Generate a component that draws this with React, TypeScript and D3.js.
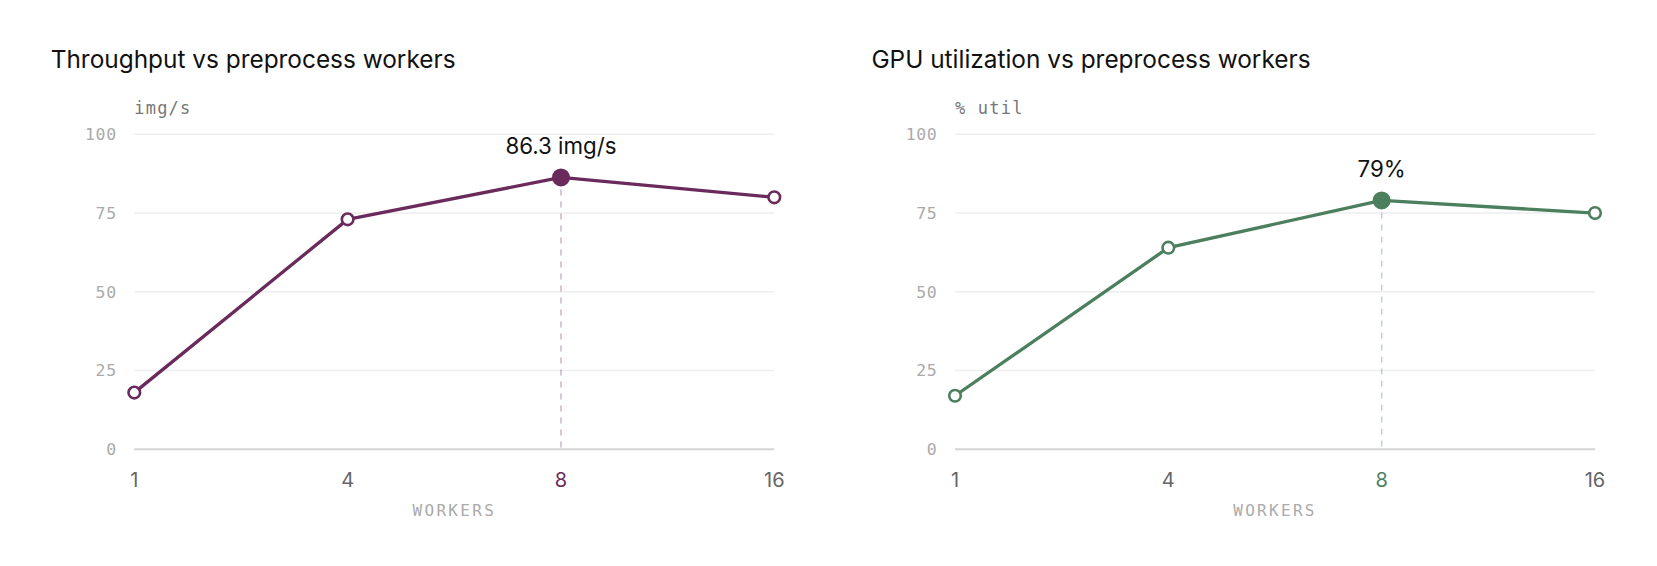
import React from "react";
import * as d3 from "d3";

const categories = ["1", "4", "8", "16"];
const throughputValues = [18, 73, 86.3, 80];
const gpuUtilValues = [17, 64, 79, 75];
const yTicks = [0, 25, 50, 75, 100];
const titles = ["Throughput vs preprocess workers", "GPU utilization vs preprocess workers"];
const units = ["img/s", "% util"];
const peakLabels = ["86.3 img/s", "79%"];
const colors = ["#6a2a5b", "#4b7f5e"];
const highlightIndex = 2;
const xAxisTitle = "WORKERS";

const W = 1657;
const H = 566;
const plotW = 640;
const plotTop = 134.3;
const plotBottom = 449.3;
const panelLefts = [134.3, 955];

const sans = "Inter, 'Noto Sans', sans-serif";
const mono = "'DejaVu Sans Mono', 'Liberation Mono', monospace";

function Panel({ idx, values }: { idx: number; values: number[] }) {
  const x0 = panelLefts[idx];
  const color = colors[idx];
  const x = d3.scalePoint<string>().domain(categories).range([x0, x0 + plotW]).padding(0);
  const y = d3.scaleLinear().domain([0, 100]).range([plotBottom, plotTop]);
  const line = d3
    .line<number>()
    .x((_, i) => x(categories[i]) as number)
    .y((d) => y(d));
  const hx = x(categories[highlightIndex]) as number;
  const hy = y(values[highlightIndex]);
  return (
    <g>
      <text x={x0 - 83.6} y={67.6} fontFamily={sans} fontSize={24.4} fill="#111">
        {titles[idx]}
      </text>
      <text x={x0} y={114} fontFamily={mono} fontSize={17} fill="#777" letterSpacing={1.2}>
        {units[idx]}
      </text>
      {yTicks.map((t) => (
        <g key={t}>
          <line
            x1={x0}
            x2={x0 + plotW}
            y1={y(t)}
            y2={y(t)}
            stroke={t === 0 ? "#d4d4d4" : "#eeeeee"}
            strokeWidth={t === 0 ? 2 : 1.5}
          />
          <text
            x={x0 - 17.6}
            y={y(t)}
            dy="0.35em"
            textAnchor="end"
            fontFamily={mono}
            fontSize={16.5}
            fill="#aaaaaa"
            letterSpacing={0.6}
          >
            {t}
          </text>
        </g>
      ))}
      <line
        x1={hx}
        x2={hx}
        y1={hy}
        y2={plotBottom}
        stroke={color}
        strokeOpacity={0.35}
        strokeWidth={1.5}
        strokeDasharray="6 6"
      />
      <path d={line(values) as string} fill="none" stroke={color} strokeWidth={3.3} strokeLinejoin="round" />
      {values.map((v, i) =>
        i === highlightIndex ? (
          <circle key={i} cx={x(categories[i])} cy={y(v)} r={9} fill={color} />
        ) : (
          <circle key={i} cx={x(categories[i])} cy={y(v)} r={5.8} fill="#fff" stroke={color} strokeWidth={2.6} />
        )
      )}
      <text x={hx} y={hy - 23} textAnchor="middle" fontFamily={sans} fontSize={22.3} fill="#111">
        {peakLabels[idx]}
      </text>
      {categories.map((c, i) => (
        <text
          key={c}
          x={x(c)}
          y={480}
          dy="0.35em"
          textAnchor="middle"
          fontFamily={sans}
          fontSize={20}
          fill={i === highlightIndex ? color : "#666"}
        >
          {c}
        </text>
      ))}
      <text
        x={x0 + plotW / 2}
        y={516}
        textAnchor="middle"
        fontFamily={mono}
        fontSize={16}
        fill="#aaaaaa"
        letterSpacing={2.3}
      >
        {xAxisTitle}
      </text>
    </g>
  );
}

export default function App() {
  return (
    <svg
      width={W}
      height={H}
      viewBox={`0 0 ${W} ${H}`}
      style={{ position: "absolute", left: 0, top: 0, background: "#fff" }}
    >
      <rect width={W} height={H} fill="#fff" />
      <Panel idx={0} values={throughputValues} />
      <Panel idx={1} values={gpuUtilValues} />
    </svg>
  );
}
